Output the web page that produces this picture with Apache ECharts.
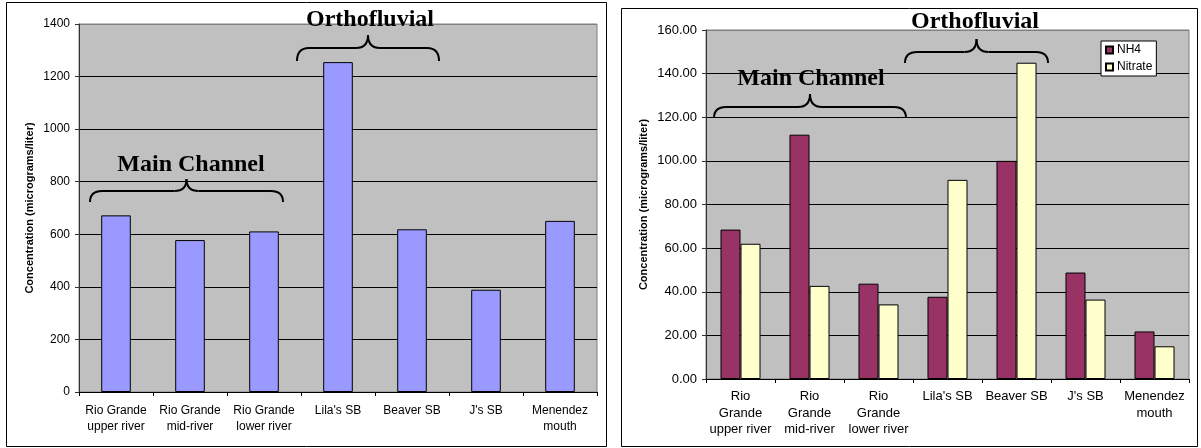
<!DOCTYPE html>
<html>
<head>
<meta charset="utf-8">
<script src="https://cdn.jsdelivr.net/npm/echarts@6/dist/echarts.min.js"></script>
<style>
  html, body { margin: 0; padding: 0; background: #fff; }
  #chart { width: 1201px; height: 448px; }
</style>
</head>
<body>
<div id="chart"></div>
<script>
// Sampling sites, as labelled under each panel
const sitesLeft = ['Rio Grande\nupper river', 'Rio Grande\nmid-river', 'Rio Grande\nlower river', "Lila's SB", 'Beaver SB', "J's SB", 'Menendez\nmouth'];
const sitesRight = ['Rio\nGrande\nupper river', 'Rio\nGrande\nmid-river', 'Rio\nGrande\nlower river', "Lila's SB", 'Beaver SB', "J's SB", 'Menendez\nmouth'];

// Concentrations (micrograms/liter)
const totalConc = [672, 578, 611, 1255, 619, 389, 651];
const nh4Conc = [68.5, 112, 43.7, 37.7, 100, 48.8, 21.8];
const nitrateConc = [62, 42.7, 34.2, 91.3, 145, 36.4, 15];

// Axis ranges
const leftAxis = { min: 0, max: 1400, interval: 200 };
const rightAxis = { min: 0, max: 160, interval: 20 };

const SANS = "'Liberation Sans', Arial, sans-serif";
const SERIF = "'Liberation Serif', 'Times New Roman', serif";

const chart = echarts.init(document.getElementById('chart'), null, { renderer: 'canvas' });

// Grid lines: plot-border gray on the top line, black elsewhere
function splitColors(n) {
  const c = [];
  for (let i = 0; i < n; i++) c.push(i === n - 1 ? '#808080' : '#000');
  return c;
}

function yAxisCfg(gridIndex, range, fontSize, fmt, nameGap, nameSize) {
  const n = Math.round((range.max - range.min) / range.interval) + 1;
  return {
    type: 'value', gridIndex,
    min: range.min, max: range.max, interval: range.interval,
    name: 'Concentration (micrograms/liter)',
    nameLocation: 'middle', nameGap,
    nameTextStyle: { fontFamily: SANS, fontWeight: 'bold', fontSize: nameSize, color: '#000' },
    axisLine: { show: true, lineStyle: { color: '#333', width: 1 } },
    axisTick: { show: true, length: 4, lineStyle: { color: '#333' } },
    axisLabel: { fontFamily: SANS, fontSize, color: '#000', margin: 9, formatter: fmt },
    splitLine: { show: true, lineStyle: { color: splitColors(n), width: 1 } }
  };
}

function xAxisCfg(gridIndex, cats, fontSize, lineHeight, margin) {
  return {
    type: 'category', gridIndex, data: cats,
    axisLine: { show: true, lineStyle: { color: '#000', width: 1 } },
    axisTick: { show: true, length: 4, lineStyle: { color: '#000' } },
    axisLabel: { interval: 0, fontFamily: SANS, fontSize, lineHeight, color: '#000', margin },
    splitLine: { show: false }
  };
}

// Curly brace opening downward: ends at (x0|x1, yEnd), ridge at yMid, tip at (xc, yTip)
function brace(x0, x1, yTip, yMid, yEnd) {
  const xc = (x0 + x1) / 2;
  const r = 12;
  const st = { stroke: '#000', lineWidth: 2, fill: null };
  return {
    type: 'group', silent: true,
    children: [
      { type: 'bezierCurve', shape: { x1: x0, y1: yEnd, cpx1: x0, cpy1: yMid, x2: x0 + r, y2: yMid }, style: st },
      { type: 'line', shape: { x1: x0 + r, y1: yMid, x2: xc - r, y2: yMid }, style: st },
      { type: 'bezierCurve', shape: { x1: xc - r, y1: yMid, cpx1: xc, cpy1: yMid, x2: xc, y2: yTip }, style: st },
      { type: 'bezierCurve', shape: { x1: xc, y1: yTip, cpx1: xc, cpy1: yMid, x2: xc + r, y2: yMid }, style: st },
      { type: 'line', shape: { x1: xc + r, y1: yMid, x2: x1 - r, y2: yMid }, style: st },
      { type: 'bezierCurve', shape: { x1: x1 - r, y1: yMid, cpx1: x1, cpy1: yMid, x2: x1, y2: yEnd }, style: st }
    ]
  };
}

function groupLabel(text, x, y) {
  return {
    type: 'text', x, y, silent: true, z: 10,
    style: { text, fontFamily: SERIF, fontWeight: 'bold', fontSize: 24, fill: '#000', align: 'center', verticalAlign: 'middle' }
  };
}

const option = {
  animation: false,
  backgroundColor: '#fff',
  grid: [
    { left: 79, top: 24, width: 518, height: 368, show: true, backgroundColor: '#C0C0C0', borderColor: '#808080', borderWidth: 1, containLabel: false },
    { left: 706, top: 30, width: 483, height: 349, show: true, backgroundColor: '#C0C0C0', borderColor: '#808080', borderWidth: 1, containLabel: false }
  ],
  xAxis: [
    xAxisCfg(0, sitesLeft, 12, 15.5, 11),
    xAxisCfg(1, sitesRight, 13, 16.7, 9)
  ],
  yAxis: [
    yAxisCfg(0, leftAxis, 12, v => String(v), 44, 11),
    yAxisCfg(1, rightAxis, 13, v => v.toFixed(2), 57, 11)
  ],
  legend: {
    show: true,
    data: ['NH4', 'Nitrate'],
    orient: 'vertical',
    left: 1101, top: 41,
    padding: [3, 4, 3, 4],
    itemGap: 5,
    itemWidth: 7, itemHeight: 7,
    icon: 'rect',
    backgroundColor: '#fff',
    borderColor: '#000', borderWidth: 1,
    textStyle: { fontFamily: SANS, fontSize: 12, color: '#000', padding: [0, 0, 0, -1] }
  },
  series: [
    {
      name: 'Total', type: 'bar', xAxisIndex: 0, yAxisIndex: 0,
      data: totalConc, barCategoryGap: '60%',
      itemStyle: { color: '#9999FF', borderColor: '#000', borderWidth: 1 }
    },
    {
      name: 'NH4', type: 'bar', xAxisIndex: 1, yAxisIndex: 1,
      data: nh4Conc, barCategoryGap: '42%', barGap: '0%',
      itemStyle: { color: '#993366', borderColor: '#000', borderWidth: 1 }
    },
    {
      name: 'Nitrate', type: 'bar', xAxisIndex: 1, yAxisIndex: 1,
      data: nitrateConc, barCategoryGap: '42%', barGap: '0%',
      itemStyle: { color: '#FFFFCC', borderColor: '#000', borderWidth: 1 }
    }
  ],
  graphic: [
    // chart frames
    { type: 'rect', shape: { x: 6.5, y: 2.5, width: 600, height: 444 }, style: { fill: null, stroke: '#000', lineWidth: 1 }, silent: true, z: -1 },
    { type: 'rect', shape: { x: 621.5, y: 8.5, width: 576, height: 438 }, style: { fill: null, stroke: '#000', lineWidth: 1 }, silent: true, z: -1 },
    // group annotations, left panel
    brace(90, 283, 179, 191, 202),
    groupLabel('Main Channel', 191, 165),
    brace(297, 439, 35, 48, 61),
    groupLabel('Orthofluvial', 370, 20),
    // group annotations, right panel
    brace(714, 906, 94, 107, 118),
    groupLabel('Main Channel', 811, 79),
    brace(905, 1048, 39, 52, 63),
    groupLabel('Orthofluvial', 975, 22)
  ]
};

chart.setOption(option);
</script>
</body>
</html>
